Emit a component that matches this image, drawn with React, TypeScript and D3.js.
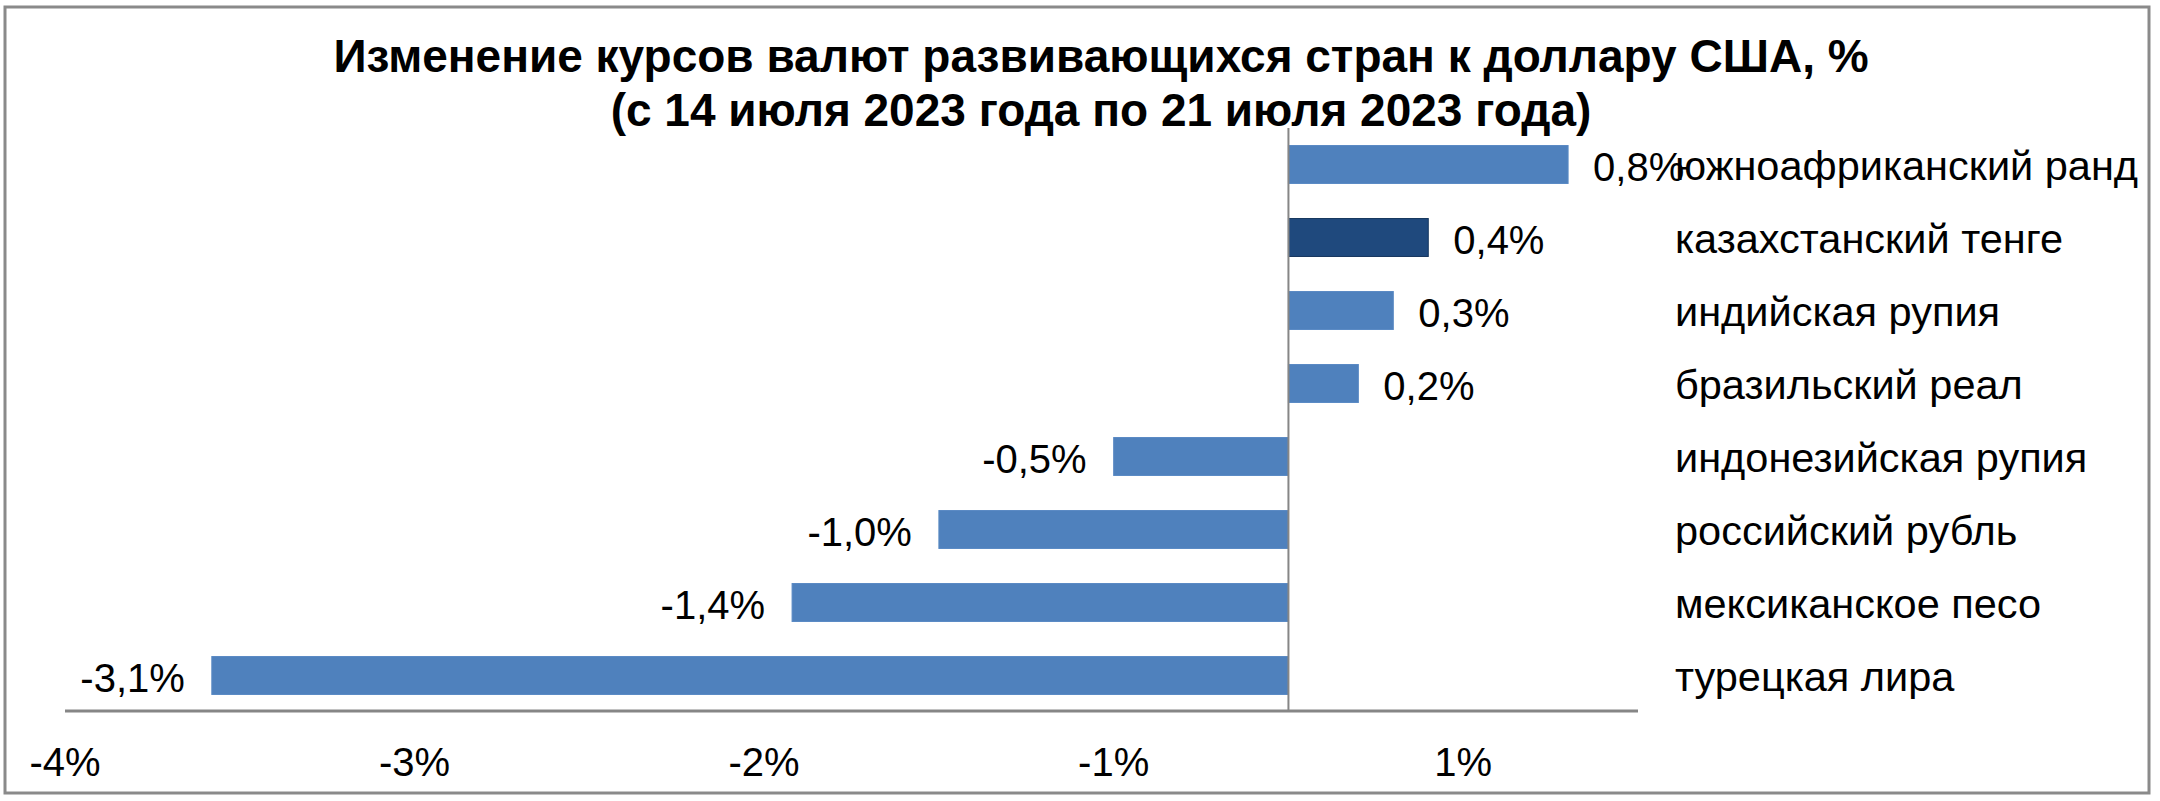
import * as d3 from "d3";

const categories = [
  "южноафриканский ранд",
  "казахстанский тенге",
  "индийская рупия",
  "бразильский реал",
  "индонезийская рупия",
  "российский рубль",
  "мексиканское песо",
  "турецкая лира",
];
// bar lengths (labels are the rounded figures)
const values = [0.8, 0.4, 0.3, 0.2, -0.5, -1.0, -1.42, -3.08];
const valueLabels = ["0,8%", "0,4%", "0,3%", "0,2%", "-0,5%", "-1,0%", "-1,4%", "-3,1%"];
const highlighted = ["казахстанский тенге"];

// excel put the ticks half-way between whole percents and rounded the labels
const tickValues = [-3.5, -2.5, -1.5, -0.5, 0.5];
const tickLabels = ["-4%", "-3%", "-2%", "-1%", "1%"];

const W = 2160;
const H = 801;
const font = "'Liberation Sans', Arial, sans-serif";

export default function App() {
  const x = d3.scaleLinear().domain([-3.5, 1.0]).range([65, 1638]);
  const y = d3
    .scaleBand<string>()
    .domain(categories)
    .range([128, 712])
    .paddingInner(0.48)
    .paddingOuter(0.24);
  const x0 = x(0);

  return (
    <div style={{ position: "absolute", left: 0, top: 0 }}>
      <svg width={W} height={H} style={{ display: "block", background: "#fff" }}>
        <rect x={5} y={7} width={2144} height={786} fill="#fff" stroke="#8a8a8a" strokeWidth={3} />

        <text x={1101} y={72} textAnchor="middle" fontFamily={font} fontWeight="bold" fontSize={46} fill="#000">
          Изменение курсов валют развивающихся стран к доллару США, %
        </text>
        <text x={1101} y={126} textAnchor="middle" fontFamily={font} fontWeight="bold" fontSize={46} fill="#000">
          (с 14 июля 2023 года по 21 июля 2023 года)
        </text>

        {categories.map((c, i) => {
          const v = values[i];
          const y0 = y(c)!;
          const hi = highlighted.includes(c);
          return (
            <rect
              key={c}
              x={Math.min(x(v), x0)}
              y={y0}
              width={Math.abs(x(v) - x0)}
              height={y.bandwidth()}
              fill={hi ? "#1F497D" : "#4F81BD"}
              stroke={hi ? "#17375E" : "#5a8ac4"}
              strokeWidth={1}
            />
          );
        })}

        {/* axes */}
        <line x1={x0} x2={x0} y1={128} y2={712} stroke="#868686" strokeWidth={2} />
        <line x1={x(-3.5)} x2={x(1.0)} y1={711} y2={711} stroke="#868686" strokeWidth={3} />

        {tickValues.map((t, i) => (
          <text key={t} x={x(t)} y={776} textAnchor="middle" fontFamily={font} fontSize={40} fill="#000">
            {tickLabels[i]}
          </text>
        ))}

        {/* value labels */}
        {categories.map((c, i) => {
          const v = values[i];
          const cy = y(c)! + y.bandwidth() / 2;
          return (
            <text
              key={c}
              x={v >= 0 ? x(v) + 25 : x(v) - 27}
              y={cy + 16}
              textAnchor={v >= 0 ? "start" : "end"}
              fontFamily={font}
              fontSize={40}
              fill="#000"
            >
              {valueLabels[i]}
            </text>
          );
        })}

        {/* category names on the right */}
        {categories.map((c) => (
          <text
            key={c}
            x={1675}
            y={y(c)! + y.bandwidth() / 2 + 15}
            fontFamily={font}
            fontSize={41.5}
            fill="#000"
          >
            {c}
          </text>
        ))}
      </svg>
    </div>
  );
}
